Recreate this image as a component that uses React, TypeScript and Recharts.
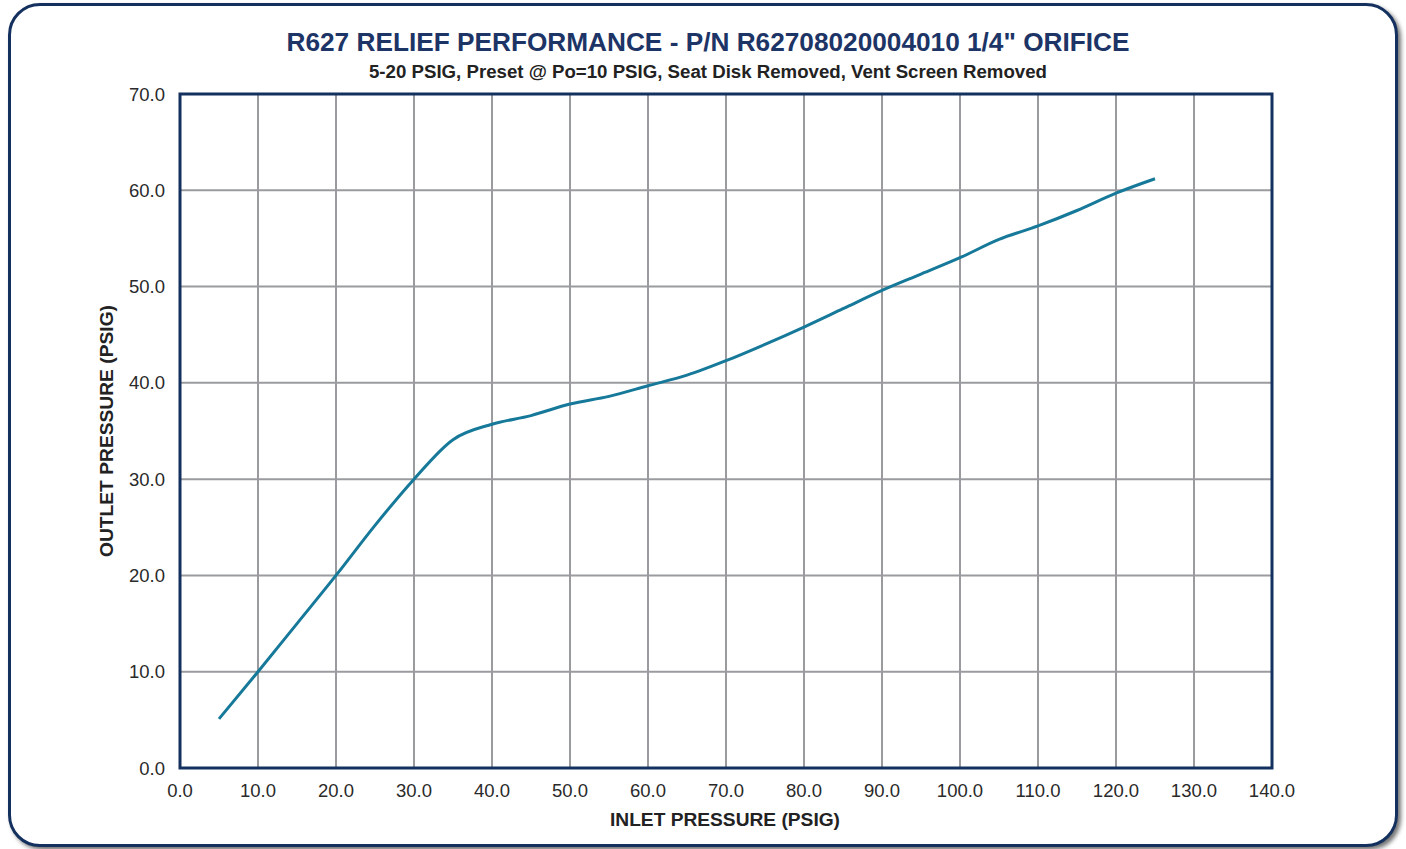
import React from "react";
import { LineChart, Line, XAxis, YAxis, CartesianGrid, ReferenceArea } from "recharts";

const inletPressure = [5, 10, 15, 20, 25, 30, 35, 40, 45, 50, 55, 60, 65, 70, 75, 80, 85, 90, 95, 100, 105, 110, 115, 120, 125];
const outletPressure = [5.1, 10, 15, 20, 25.2, 30, 34.1, 35.7, 36.6, 37.8, 38.6, 39.7, 40.8, 42.3, 44.0, 45.8, 47.7, 49.6, 51.3, 53.0, 54.9, 56.3, 57.9, 59.7, 61.2];
const xTicks = [0, 10, 20, 30, 40, 50, 60, 70, 80, 90, 100, 110, 120, 130, 140];
const yTicks = [0, 10, 20, 30, 40, 50, 60, 70];

const title = "R627 RELIEF PERFORMANCE - P/N R62708020004010 1/4\" ORIFICE";
const subtitle = "5-20 PSIG, Preset @ Po=10 PSIG, Seat Disk Removed, Vent Screen Removed";
const xLabel = "INLET PRESSURE (PSIG)";
const yLabel = "OUTLET PRESSURE (PSIG)";

const data = inletPressure.map((x, i) => ({ x, y: outletPressure[i] }));

const FONT = "'Liberation Sans', Arial, Helvetica, sans-serif";
const NAVY = "#14305f";

export default function App() {
  return (
    <div style={{ position: "absolute", left: 0, top: 0, width: 1406, height: 849, background: "#fff", overflow: "hidden", fontFamily: FONT }}>
      <div
        style={{
          position: "absolute",
          left: 8,
          top: 3,
          width: 1390,
          height: 844,
          boxSizing: "border-box",
          border: `3px solid ${NAVY}`,
          borderRadius: 32,
          boxShadow: "3px 3px 4px rgba(0,0,0,0.55)",
          background: "#fff",
        }}
      />
      <div style={{ position: "absolute", left: 0, top: 0 }}>
        <LineChart width={1406} height={849} data={data} margin={{ top: 94, right: 134, left: 120, bottom: 51 }}>
          <CartesianGrid stroke="#9a9b9f" strokeWidth={2} horizontalValues={yTicks} verticalValues={xTicks} />
          <XAxis
            type="number"
            dataKey="x"
            domain={[0, 140]}
            ticks={xTicks}
            interval={0}
            height={30}
            tickLine={false}
            axisLine={false}
            tickSize={0}
            tickMargin={16}
            tickFormatter={(v: number) => v.toFixed(1)}
            tick={{ fill: "#2a2a2a", fontSize: 18.5, fontFamily: FONT }}
          />
          <YAxis
            type="number"
            domain={[0, 70]}
            ticks={yTicks}
            interval={0}
            width={60}
            tickLine={false}
            axisLine={false}
            tickSize={0}
            tickMargin={15}
            tickFormatter={(v: number) => v.toFixed(1)}
            tick={{ fill: "#2a2a2a", fontSize: 18.5, fontFamily: FONT }}
          />
          <Line
            type="monotone"
            dataKey="y"
            stroke="#16799a"
            strokeWidth={3}
            dot={false}
            isAnimationActive={false}
          />
          <ReferenceArea x1={0} x2={140} y1={0} y2={70} fill="none" stroke={NAVY} strokeWidth={3} ifOverflow="visible" />
        </LineChart>
      </div>
      <svg width={1406} height={849} style={{ position: "absolute", left: 0, top: 0, pointerEvents: "none" }}>
        <text x={708} y={51} textAnchor="middle" fill="#1d3466" fontWeight="bold" fontSize={25.5} fontFamily={FONT} textLength={843} lengthAdjust="spacingAndGlyphs">
          {title}
        </text>
        <text x={708} y={78} textAnchor="middle" fill="#222" fontWeight="bold" fontSize={17.5} fontFamily={FONT} textLength={678} lengthAdjust="spacingAndGlyphs">
          {subtitle}
        </text>
        <text x={725} y={826} textAnchor="middle" fill="#222" fontWeight="bold" fontSize={18} fontFamily={FONT} textLength={230} lengthAdjust="spacingAndGlyphs">
          {xLabel}
        </text>
        <text x={0} y={0} transform="translate(113,431) rotate(-90)" textAnchor="middle" fill="#222" fontWeight="bold" fontSize={18} fontFamily={FONT} textLength={252} lengthAdjust="spacingAndGlyphs">
          {yLabel}
        </text>
      </svg>
    </div>
  );
}
